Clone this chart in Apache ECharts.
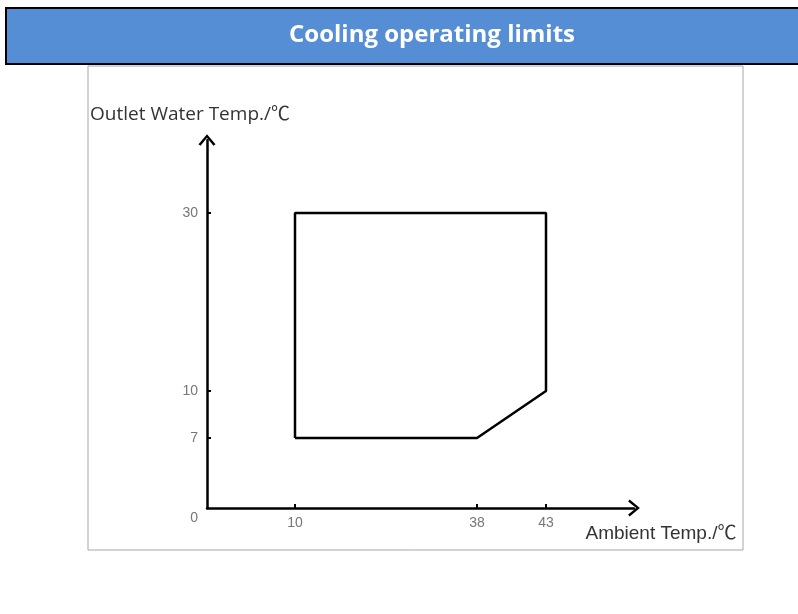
<!DOCTYPE html>
<html><head><meta charset="utf-8">
<script src="https://cdn.jsdelivr.net/npm/echarts@6/dist/echarts.min.js"></script>
<style>html,body{margin:0;padding:0;background:#fff}#c{width:798px;height:614px}</style>
</head><body><div id="c"></div>
<script>
// ---- data ----
var titleText = 'Cooling operating limits';
var xName = 'Ambient Temp./℃';
var yName = 'Outlet Water Temp./℃';
var xTickValues = [0, 10, 38, 43];
var yTickValues = [0, 7, 10, 30];
// operating envelope corners (ambient, outlet water)
var envAmbient = [10, 38, 43, 43, 10, 10];
var envWater   = [7, 7, 10, 30, 30, 7];

// ---- schematic (non-linear) axis scale: tick value -> axis position ----
var xTickPos = [0, 88, 270, 339];
var yTickPos = [0, 70, 117, 295];
function piece(vals, pos, v) {
  for (var i = 0; i < vals.length - 1; i++) {
    if (v <= vals[i + 1] || i === vals.length - 2) {
      return pos[i] + (v - vals[i]) * (pos[i + 1] - pos[i]) / (vals[i + 1] - vals[i]);
    }
  }
}
function invLabel(vals, pos, p) {
  var i = pos.indexOf(p);
  return i >= 0 ? String(vals[i]) : '';
}
var envData = envAmbient.map(function (a, i) {
  return [piece(xTickValues, xTickPos, a), piece(yTickValues, yTickPos, envWater[i])];
});

var chevron = 'path://M0,12 L10,0 L20,12 L17.6,13.8 L10,4.2 L2.4,13.8 Z';
var chart = echarts.init(document.getElementById('c'), null, {renderer: 'canvas'});
chart.setOption({
  animation: false,
  backgroundColor: '#fff',
  graphic: [
    {type: 'rect', shape: {x: 6, y: 8, width: 800, height: 56},
     style: {fill: '#558ED5', stroke: '#000', lineWidth: 2}, z: 0},
    {type: 'rect', shape: {x: 88, y: 66, width: 655, height: 484},
     style: {fill: 'none', stroke: '#a6a6a6', lineWidth: 1}, z: 0}
  ],
  title: {
    text: titleText, left: 284, top: 18,
    textStyle: {color: '#fff', fontFamily: 'Open Sans, Lato, sans-serif', fontWeight: 'bold', fontSize: 24}
  },
  grid: {left: 207, top: 140, width: 427, height: 368},
  xAxis: {
    type: 'value', min: 0, max: 427,
    name: xName, nameLocation: 'end', nameGap: 27,
    nameTextStyle: {color: '#333', fontSize: 19, fontFamily: 'Liberation Sans, Noto Sans CJK SC, sans-serif',
      align: 'center', verticalAlign: 'top', padding: [16, 0, 0, 0]},
    axisLine: {show: true, lineStyle: {color: '#000', width: 2.5}, symbol: ['none', chevron], symbolSize: [17, 16]},
    axisTick: {show: true, inside: true, length: 4, lineStyle: {color: '#000', width: 2}, customValues: xTickPos.slice(1)},
    axisLabel: {color: '#777', fontSize: 14, margin: 8, fontFamily: 'Liberation Sans, sans-serif',
      customValues: xTickPos.slice(1),
      formatter: function (v) { return invLabel(xTickValues, xTickPos, v); }},
    splitLine: {show: false}
  },
  yAxis: {
    type: 'value', min: 0, max: 368,
    name: yName, nameLocation: 'end', nameGap: 16,
    nameTextStyle: {color: '#333', fontSize: 19, fontFamily: 'Open Sans, Noto Sans CJK SC, sans-serif',
      align: 'center', padding: [0, 34, 0, 0]},
    axisLine: {show: true, lineStyle: {color: '#000', width: 2.5}, symbol: ['none', chevron], symbolSize: [17, 16]},
    axisTick: {show: true, inside: true, length: 4, lineStyle: {color: '#000', width: 2}, customValues: yTickPos.slice(1)},
    axisLabel: {color: '#777', fontSize: 14, margin: 9, fontFamily: 'Liberation Sans, sans-serif',
      customValues: yTickPos,
      formatter: function (v) {
        var s = invLabel(yTickValues, yTickPos, v);
        return v === 0 ? '{z|' + s + '}' : s;
      },
      rich: {z: {color: '#777', fontSize: 14, padding: [20, 0, 0, 0]}}},
    splitLine: {show: false}
  },
  series: [{
    type: 'line', data: envData, symbol: 'none',
    lineStyle: {color: '#000', width: 2.5}, z: 3
  }]
});
</script></body></html>
